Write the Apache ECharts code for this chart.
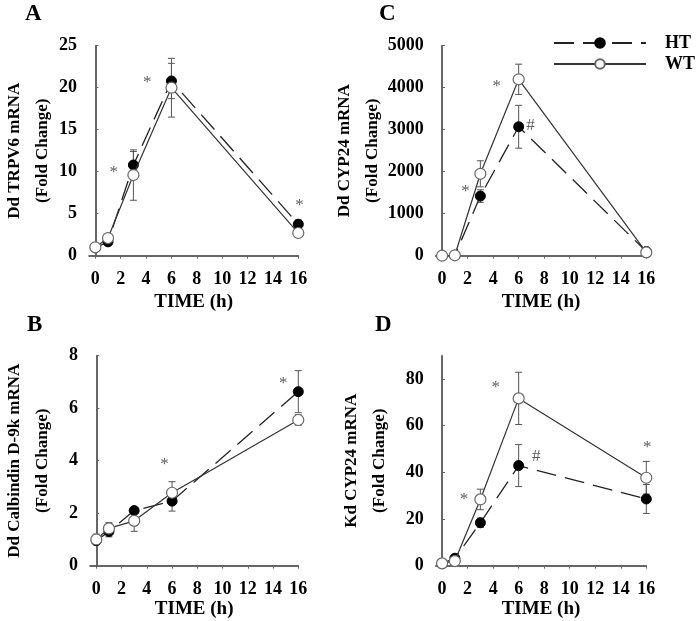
<!DOCTYPE html>
<html>
<head>
<meta charset="utf-8">
<script src="https://cdn.jsdelivr.net/npm/echarts@6/dist/echarts.min.js"></script>
<style>html,body{margin:0;padding:0;background:#fff}#c{width:696px;height:621px}</style>
</head>
<body>
<div id="c"></div>
<script>
// ---- data ----
var times = [0, 1, 3, 6, 16];
var xTicks = [0, 2, 4, 6, 8, 10, 12, 14, 16];

// Panel A: Dd TRPV6 mRNA
var htA = [0.95, 1.65, 10.8, 20.8, 3.75];
var htAErr = [0.2, 0.3, 1.6, 2.1, 0.5];
var wtA = [1.0, 2.1, 9.6, 20.0, 2.7];
var wtAErr = [0.2, 0.3, 3.0, 3.5, 0.4];
var annA = [[1.45, 10.4, '*'], [4.1, 21.1, '*'], [16.1, 6.4, '*']];

// Panel C: Dd CYP24 mRNA
var htC = [0, 10, 1420, 3070, 100];
var htCErr = [0, 0, 150, 510, 30];
var wtC = [0, 10, 1950, 4200, 80];
var wtCErr = [0, 0, 310, 360, 30];
var annC = [[1.83, 1628, '*'], [4.29, 4119, '*'], [6.93, 3190, '#']];

// Panel B: Dd Calbindin D-9k mRNA
var htB = [0.95, 1.3, 2.1, 2.46, 6.63];
var htBErr = [0.1, 0.2, 0.1, 0.38, 0.8];
var wtB = [1.0, 1.42, 1.71, 2.78, 5.55];
var wtBErr = [0.2, 0.22, 0.4, 0.42, 0.2];
var annB = [[5.41, 4.0, '*'], [14.8, 7.1, '*']];

// Panel D: Kd CYP24 mRNA
var htD = [1, 3.2, 18.4, 42.9, 28.6];
var htDErr = [0.5, 0.8, 2, 9, 6.2];
var wtD = [1, 2.0, 28.4, 71.7, 37.7];
var wtDErr = [0.5, 0.5, 4.4, 11.2, 7];
var annD = [[1.71, 30.2, '*'], [4.2, 77.9, '*'], [16.08, 52.5, '*'], [7.37, 48.4, '#']];

var yTicksA = [0, 5, 10, 15, 20, 25];
var yTicksC = [0, 1000, 2000, 3000, 4000, 5000];
var yTicksB = [0, 2, 4, 6, 8];
var yTicksD = [0, 20, 40, 60, 80];

// ---- chart ----
var FONT = '"Liberation Serif","Times New Roman",serif';
var chart = echarts.init(document.getElementById('c'));

var panels = [
  {letter: 'A', left: 87.7, top: 45.7, min: 0, max: 25, ticks: yTicksA, name: 'Dd TRPV6 mRNA\n(Fold Change)', gap: 32, ht: htA, htE: htAErr, wt: wtA, wtE: wtAErr, ann: annA, lx: 25, ly: 3, xgap: 37},
  {letter: 'C', left: 435.7, top: 45.7, min: 0, max: 5000, ticks: yTicksC, name: 'Dd CYP24 mRNA\n(Fold Change)', gap: 49, ht: htC, htE: htCErr, wt: wtC, wtE: wtCErr, ann: annC, lx: 379, ly: 3, xgap: 37},
  {letter: 'B', left: 87.7, top: 355.7, min: 0, max: 8, ticks: yTicksB, name: 'Dd Calbindin D-9k mRNA\n(Fold Change)', gap: 33, ht: htB, htE: htBErr, wt: wtB, wtE: wtBErr, ann: annB, lx: 27, ly: 314, xgap: 34},
  {letter: 'D', left: 435.7, top: 355.7, min: 0, max: 90, ticks: yTicksD, name: 'Kd CYP24 mRNA\n(Fold Change)', gap: 42, ht: htD, htE: htDErr, wt: wtD, wtE: wtDErr, ann: annD, lx: 375, ly: 314, xgap: 34}
];

var grids = [], xAxes = [], yAxes = [], series = [], graphics = [];

function errData(vals, errs) {
  return times.map(function (t, i) { return [t, vals[i], errs[i]]; });
}
function errRender(params, api) {
  var x = api.value(0), y = api.value(1), e = api.value(2);
  if (!e) return null;
  var top = api.coord([x, y + e]);
  var bot = api.coord([x, y - e]);
  var hw = 3.5;
  var st = {stroke: '#555', lineWidth: 1};
  return {type: 'group', children: [
    {type: 'line', shape: {x1: top[0], y1: top[1], x2: bot[0], y2: bot[1]}, style: st},
    {type: 'line', shape: {x1: top[0] - hw, y1: top[1], x2: top[0] + hw, y2: top[1]}, style: st},
    {type: 'line', shape: {x1: bot[0] - hw, y1: bot[1], x2: bot[0] + hw, y2: bot[1]}, style: st}
  ]};
}

panels.forEach(function (p, i) {
  grids.push({left: p.left, top: p.top, width: 210.6, height: 210, containLabel: false});
  xAxes.push({
    type: 'value', gridIndex: i, min: -0.5, max: 16,
    name: 'TIME (h)', nameLocation: 'middle', nameGap: p.xgap, nameMoveOverlap: false,
    nameTextStyle: {fontFamily: FONT, fontWeight: 'bold', fontSize: 19, color: '#000'},
    axisLine: {lineStyle: {color: '#333', width: 1.5}},
    axisTick: {show: true, length: 3, lineStyle: {color: '#666'}, customValues: xTicks},
    axisLabel: {customValues: xTicks, margin: 15, fontFamily: FONT, fontWeight: 'bold', fontSize: 18, color: '#000'},
    splitLine: {show: false}
  });
  yAxes.push({
    type: 'value', gridIndex: i, min: p.min, max: p.max,
    name: p.name, nameLocation: 'middle', nameRotate: 90, nameGap: p.gap, nameMoveOverlap: false,
    nameTextStyle: {fontFamily: FONT, fontWeight: 'bold', fontSize: 17, color: '#000', lineHeight: 28, align: 'center'},
    axisLine: {show: true, lineStyle: {color: '#333', width: 1.5}},
    axisTick: {show: true, inside: true, length: 3, lineStyle: {color: '#666'}, customValues: p.ticks},
    axisLabel: {customValues: p.ticks, margin: 12, fontFamily: FONT, fontWeight: 'bold', fontSize: 18, color: '#000',
      formatter: function (v) { return String(v); }},
    splitLine: {show: false}
  });
  series.push({
    type: 'custom', xAxisIndex: i, yAxisIndex: i, renderItem: errRender,
    data: errData(p.ht, p.htE), encode: {x: 0, y: 1}, z: 1, silent: true
  });
  series.push({
    type: 'custom', xAxisIndex: i, yAxisIndex: i, renderItem: errRender,
    data: errData(p.wt, p.wtE), encode: {x: 0, y: 1}, z: 1, silent: true
  });
  series.push({
    name: 'HT', type: 'line', xAxisIndex: i, yAxisIndex: i,
    data: times.map(function (t, k) { return [t, p.ht[k]]; }),
    symbol: 'circle', symbolSize: 10, showAllSymbol: true,
    itemStyle: {color: '#000', borderColor: '#000', borderWidth: 1},
    lineStyle: {color: '#222', width: 1.3, type: [20, 9]},
    z: 2, silent: true
  });
  series.push({
    name: 'WT', type: 'line', xAxisIndex: i, yAxisIndex: i,
    data: times.map(function (t, k) { return [t, p.wt[k]]; }),
    symbol: 'circle', symbolSize: 11, showAllSymbol: true,
    itemStyle: {color: '#fff', borderColor: '#666', borderWidth: 1.2},
    lineStyle: {color: '#333', width: 1.2, type: 'solid'},
    z: 3, silent: true
  });
  series.push({
    type: 'scatter', xAxisIndex: i, yAxisIndex: i, data: p.ann,
    symbolSize: 1, itemStyle: {color: 'rgba(0,0,0,0)'}, clip: false, silent: true, z: 4,
    label: {show: true, position: 'inside', formatter: function (d) { return d.data[2]; },
      fontFamily: FONT, fontSize: 17, color: '#333', offset: [0, 4]}
  });
  graphics.push({type: 'text', left: p.lx, top: p.ly,
    style: {text: p.letter, font: 'bold 23px ' + FONT, fill: '#000'}});
});

chart.setOption({
  animation: false,
  backgroundColor: '#fff',
  grid: grids,
  xAxis: xAxes,
  yAxis: yAxes,
  series: series,
  graphic: graphics,
  legend: {
    data: ['HT', 'WT'], orient: 'vertical', left: 548, top: 29,
    itemWidth: 92, itemHeight: 12, itemGap: 3, selectedMode: false,
    textStyle: {fontFamily: FONT, fontWeight: 'bold', fontSize: 18, color: '#000', padding: [0, 0, 0, 14]}
  }
});
</script>
</body>
</html>
